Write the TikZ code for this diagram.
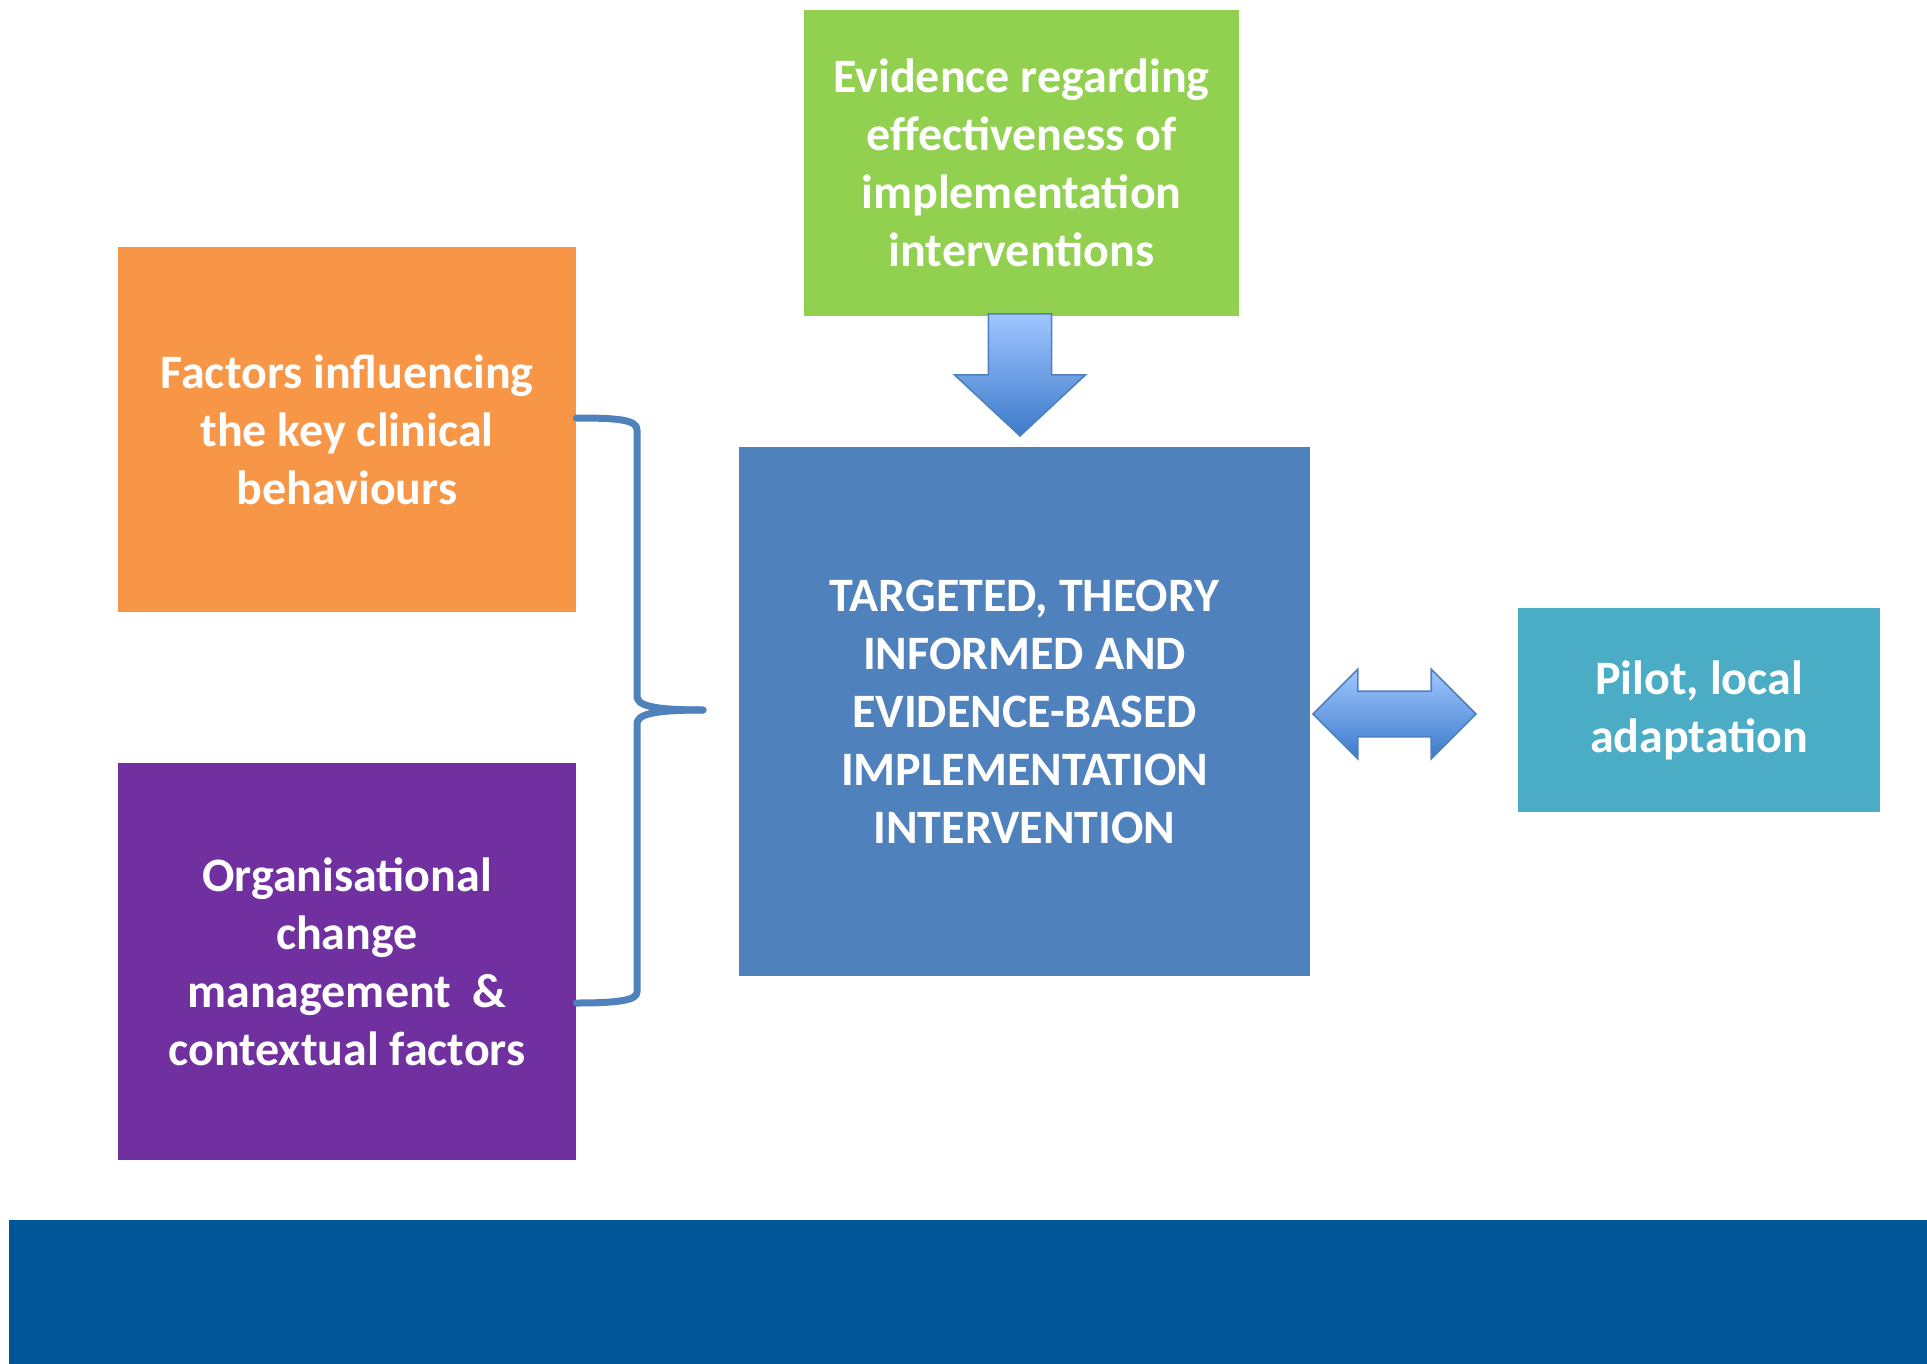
\documentclass[tikz,border=0pt]{standalone}
\usepackage{fontspec}
\setmainfont{Carlito}
\usetikzlibrary{positioning, calc, shapes.arrows}

\definecolor{evgreen}{RGB}{146,208,80}
\definecolor{factorange}{RGB}{247,150,70}
\definecolor{orgpurple}{RGB}{112,48,160}
\definecolor{intblue}{RGB}{79,129,189}
\definecolor{pilotteal}{RGB}{75,172,198}
\definecolor{bandblue}{RGB}{0,86,150}
\definecolor{arrtop}{RGB}{160,198,255}
\definecolor{arrbot}{RGB}{60,122,202}

\begin{document}
\begin{tikzpicture}[x=0.5pt, y=-0.5pt,
        box/.style = {rectangle, inner sep=0pt, text=white, align=center, font=\bfseries\fontsize{24}{29}\selectfont},%
        blockarrow/.style = {draw=intblue, line width=0.8pt, top color=arrtop, bottom color=arrbot},%
        brace/.style = {draw=intblue, line width=3.5pt, line cap=round, line join=round}%
    ]%
        \useasboundingbox (0,0) rectangle (1927,1364);
        \fill[bandblue] (9,1220) rectangle (1927,1364);

        \node[box, fill=evgreen, minimum width=217.5pt, minimum height=153pt] (evid) at (1021.5,163)
            {Evidence regarding\\effectiveness of\\implementation\\interventions};
        \node[box, fill=factorange, minimum width=229pt, minimum height=182.5pt] (fact) at (347,429.5)
            {Factors influencing\\the key clinical\\behaviours};
        \node[box, fill=orgpurple, minimum width=229pt, minimum height=198.5pt] (org) at (347,961.5)
            {Organisational\\change\\management\ \ \&\\contextual factors};
        \node[box, fill=intblue, minimum width=285.5pt, minimum height=264.5pt] (interv) at (1024.5,711.5)
            {TARGETED, THEORY\\INFORMED AND\\EVIDENCE-BASED\\IMPLEMENTATION\\INTERVENTION};
        \node[box, fill=pilotteal, minimum width=181pt, minimum height=102pt] (pilot) at (1699,710)
            {Pilot, local\\adaptation};

        \node[blockarrow, single arrow, shape border rotate=270, inner xsep=15pt, inner ysep=16.25pt,
            minimum height=61pt, minimum width=65.5pt, anchor=tip,
            single arrow head extend=16.5pt, single arrow tip angle=94] (down) at (1020,437) {};
        \node[blockarrow, double arrow, inner xsep=0pt, inner ysep=11pt, minimum height=81.5pt, minimum width=44pt,
            double arrow head extend=11pt, double arrow tip angle=90] (both) at (1394.5,714) {};

        \coordinate (tip) at (703,710);
        \draw[brace] ($(fact.east)+(0,-11.5)$) .. controls (620,418) and (637,420) .. (637,430)
            -- (637,696) .. controls (637,705) and (650,710) .. (tip);
        \draw[brace] (tip) .. controls (650,710) and (637,715) .. (637,724)
            -- (637,992) .. controls (637,1000) and (620,1003) .. ($(org.east)+(0,41.5)$);
    \end{tikzpicture}
\end{document}
